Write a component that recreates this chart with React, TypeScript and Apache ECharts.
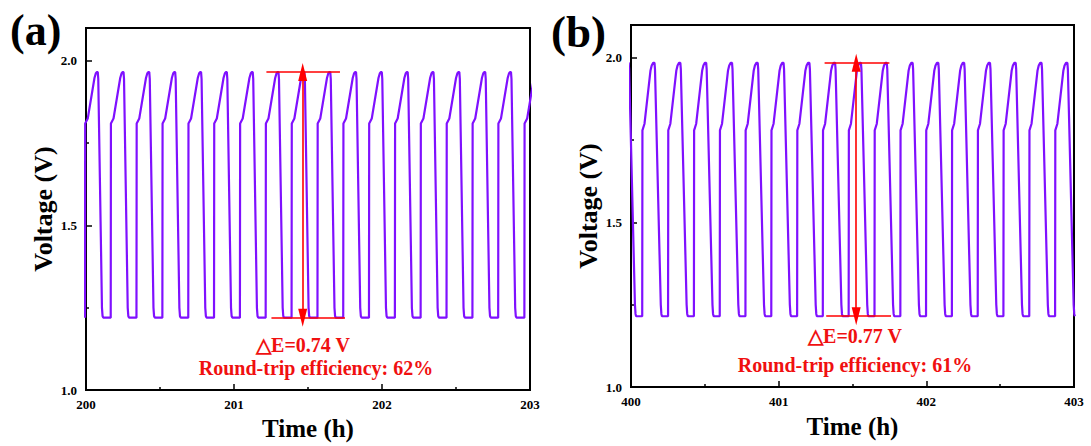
import React, { useEffect, useRef } from "react";
import * as echarts from "echarts";

// ---- Panel (a) data ----
const riseTimesA = [
  199.993, 200.167, 200.341, 200.516, 200.691, 200.865, 201.04, 201.214, 201.389,
  201.564, 201.738, 201.912, 202.087, 202.261, 202.436, 202.611, 202.785, 202.962,
];
const profileHoursA = [0, 0.0014, 0.0189, 0.0642, 0.073, 0.0797, 0.0865, 0.0899, 0.1149, 0.1189, 0.1236];
const profileVoltsA = [1.22, 1.81, 1.825, 1.948, 1.962, 1.966, 1.966, 1.945, 1.25, 1.225, 1.22];

// ---- Panel (b) data ----
const riseTimesB = [
  399.901, 400.076, 400.251, 400.426, 400.601, 400.775, 400.95, 401.125, 401.299,
  401.474, 401.649, 401.824, 401.998, 402.173, 402.348, 402.522, 402.697, 402.872,
];
const profileHoursB = [0, 0.0014, 0.0155, 0.0561, 0.0642, 0.0743, 0.0831, 0.0865, 0.1257, 0.1297, 0.1338];
const profileVoltsB = [1.215, 1.78, 1.8, 1.962, 1.977, 1.985, 1.985, 1.965, 1.25, 1.222, 1.215];

// axis ticks
const xTicksA = [200, 201, 202, 203];
const xTicksB = [400, 401, 402, 403];
const yTickLabels = [1.0, 1.5, 2.0];

// annotations
const arrowA = { x: 201.464, lineStartTop: 201.219, lineEndTop: 201.716, lineStartBot: 201.253, lineEndBot: 201.75, top: 1.966, bottom: 1.22 };
const arrowB = { x: 401.525, lineStartTop: 401.311, lineEndTop: 401.75, lineStartBot: 401.322, lineEndBot: 401.761, top: 1.985, bottom: 1.215 };
const deltaTextA = "\u25B3E=0.74 V";
const effTextA = "Round-trip efficiency: 62%";
const deltaTextB = "\u25B3E=0.77 V";
const effTextB = "Round-trip efficiency: 61%";

function buildSeries(rises: number[], offs: number[], volts: number[]) {
  const out: number[][] = [];
  rises.forEach((r) => {
    offs.forEach((o, j) => out.push([+(r + o).toFixed(4), volts[j]]));
  });
  return out;
}

const FONT = "'Liberation Serif', 'Times New Roman', serif";
const LINE_COLOR = "#7f10ff";
const RED = "#ff0000";
const TEXT_RED = "#f01010";

function xAxisCfg(gridIndex: number, ticks: number[], nameGap: number) {
  return {
    type: "value",
    gridIndex,
    min: ticks[0],
    max: ticks[ticks.length - 1],
    interval: 1,
    name: "Time (h)",
    nameLocation: "middle",
    nameGap,
    nameTextStyle: { fontFamily: FONT, fontWeight: "bold", fontSize: 25, color: "#000" },
    axisLine: { show: true, lineStyle: { color: "#000", width: 2 } },
    axisTick: { show: true, inside: true, length: 6, lineStyle: { color: "#000", width: 1.5 } },
    minorTick: { show: true, splitNumber: 2, length: 3, lineStyle: { color: "#000", width: 1.5 } },
    axisLabel: { fontFamily: FONT, fontWeight: "bold", fontSize: 13, color: "#000", margin: 8 },
    splitLine: { show: false },
  };
}

function yAxisCfg(gridIndex: number, nameGap: number) {
  return {
    type: "value",
    gridIndex,
    min: 1.0,
    max: 2.1,
    interval: 0.5,
    name: "Voltage (V)",
    nameLocation: "middle",
    nameGap,
    nameTextStyle: { fontFamily: FONT, fontWeight: "bold", fontSize: 26, color: "#000" },
    axisLine: { show: true, lineStyle: { color: "#000", width: 2 } },
    axisTick: { show: true, inside: true, length: 6, lineStyle: { color: "#000", width: 1.5 } },
    minorTick: { show: true, splitNumber: 2, length: 3, lineStyle: { color: "#000", width: 1.5 } },
    axisLabel: {
      fontFamily: FONT,
      fontWeight: "bold",
      fontSize: 13,
      color: "#000",
      margin: 9,
      formatter: (v: number) => (yTickLabels.some((t) => Math.abs(t - v) < 1e-6) ? v.toFixed(1) : ""),
    },
    splitLine: { show: false },
  };
}

function arrowMarks(a: typeof arrowA) {
  return {
    silent: true,
    animation: false,
    symbol: "none",
    label: { show: false },
    lineStyle: { color: RED, width: 1.6, type: "solid" },
    emphasis: { disabled: true },
    data: [
      [
        { coord: [a.lineStartTop, a.top], symbol: "none" },
        { coord: [a.lineEndTop, a.top], symbol: "none" },
      ],
      [
        { coord: [a.lineStartBot, a.bottom], symbol: "none" },
        { coord: [a.lineEndBot, a.bottom], symbol: "none" },
      ],
      [
        { coord: [a.x, a.bottom], symbol: "triangle", symbolSize: [9, 18] },
        { coord: [a.x, a.top], symbol: "triangle", symbolSize: [9, 18] },
      ],
    ],
  };
}

export default function App() {
  const ref = useRef<HTMLDivElement>(null);
  useEffect(() => {
    if (!ref.current) return;
    const chart = echarts.init(ref.current, undefined, { renderer: "svg" });
    const option: any = {
      animation: false,
      backgroundColor: "#fff",
      grid: [
        { left: 86, top: 28, width: 444, height: 365, show: true, borderColor: "#000", borderWidth: 2, backgroundColor: "transparent" },
        { left: 631, top: 25, width: 443, height: 362, show: true, borderColor: "#000", borderWidth: 2, backgroundColor: "transparent" },
      ],
      xAxis: [xAxisCfg(0, xTicksA, 21), xAxisCfg(1, xTicksB, 27)],
      yAxis: [yAxisCfg(0, 23), yAxisCfg(1, 22)],
      series: [
        {
          type: "line",
          xAxisIndex: 0,
          yAxisIndex: 0,
          data: buildSeries(riseTimesA, profileHoursA, profileVoltsA),
          showSymbol: false,
          symbol: "none",
          clip: true,
          lineStyle: { color: LINE_COLOR, width: 2.2 },
          itemStyle: { color: LINE_COLOR },
          markLine: arrowMarks(arrowA),
          z: 2,
        },
        {
          type: "line",
          xAxisIndex: 1,
          yAxisIndex: 1,
          data: buildSeries(riseTimesB, profileHoursB, profileVoltsB),
          showSymbol: false,
          symbol: "none",
          clip: true,
          lineStyle: { color: LINE_COLOR, width: 2.2 },
          itemStyle: { color: LINE_COLOR },
          markLine: arrowMarks(arrowB),
          z: 2,
        },
      ],
      graphic: [
        { type: "text", left: 10, top: 8, style: { text: "(a)", font: `bold 44px ${FONT}`, fill: "#000" } },
        { type: "text", left: 551, top: 9, style: { text: "(b)", font: `bold 45px ${FONT}`, fill: "#000" } },
        { type: "text", x: 303, y: 345, style: { text: deltaTextA, font: `bold 20px ${FONT}`, fill: TEXT_RED, textAlign: "center", textVerticalAlign: "middle" } },
        { type: "text", x: 316, y: 368, style: { text: effTextA, font: `bold 20px ${FONT}`, fill: TEXT_RED, textAlign: "center", textVerticalAlign: "middle" } },
        { type: "text", x: 855, y: 336, style: { text: deltaTextB, font: `bold 20px ${FONT}`, fill: TEXT_RED, textAlign: "center", textVerticalAlign: "middle" } },
        { type: "text", x: 855, y: 365, style: { text: effTextB, font: `bold 20px ${FONT}`, fill: TEXT_RED, textAlign: "center", textVerticalAlign: "middle" } },
      ],
    };
    chart.setOption(option);
    return () => chart.dispose();
  }, []);
  return (
    <div
      ref={ref}
      style={{ position: "absolute", left: 0, top: 0, width: 1091, height: 446, background: "#fff" }}
    />
  );
}
